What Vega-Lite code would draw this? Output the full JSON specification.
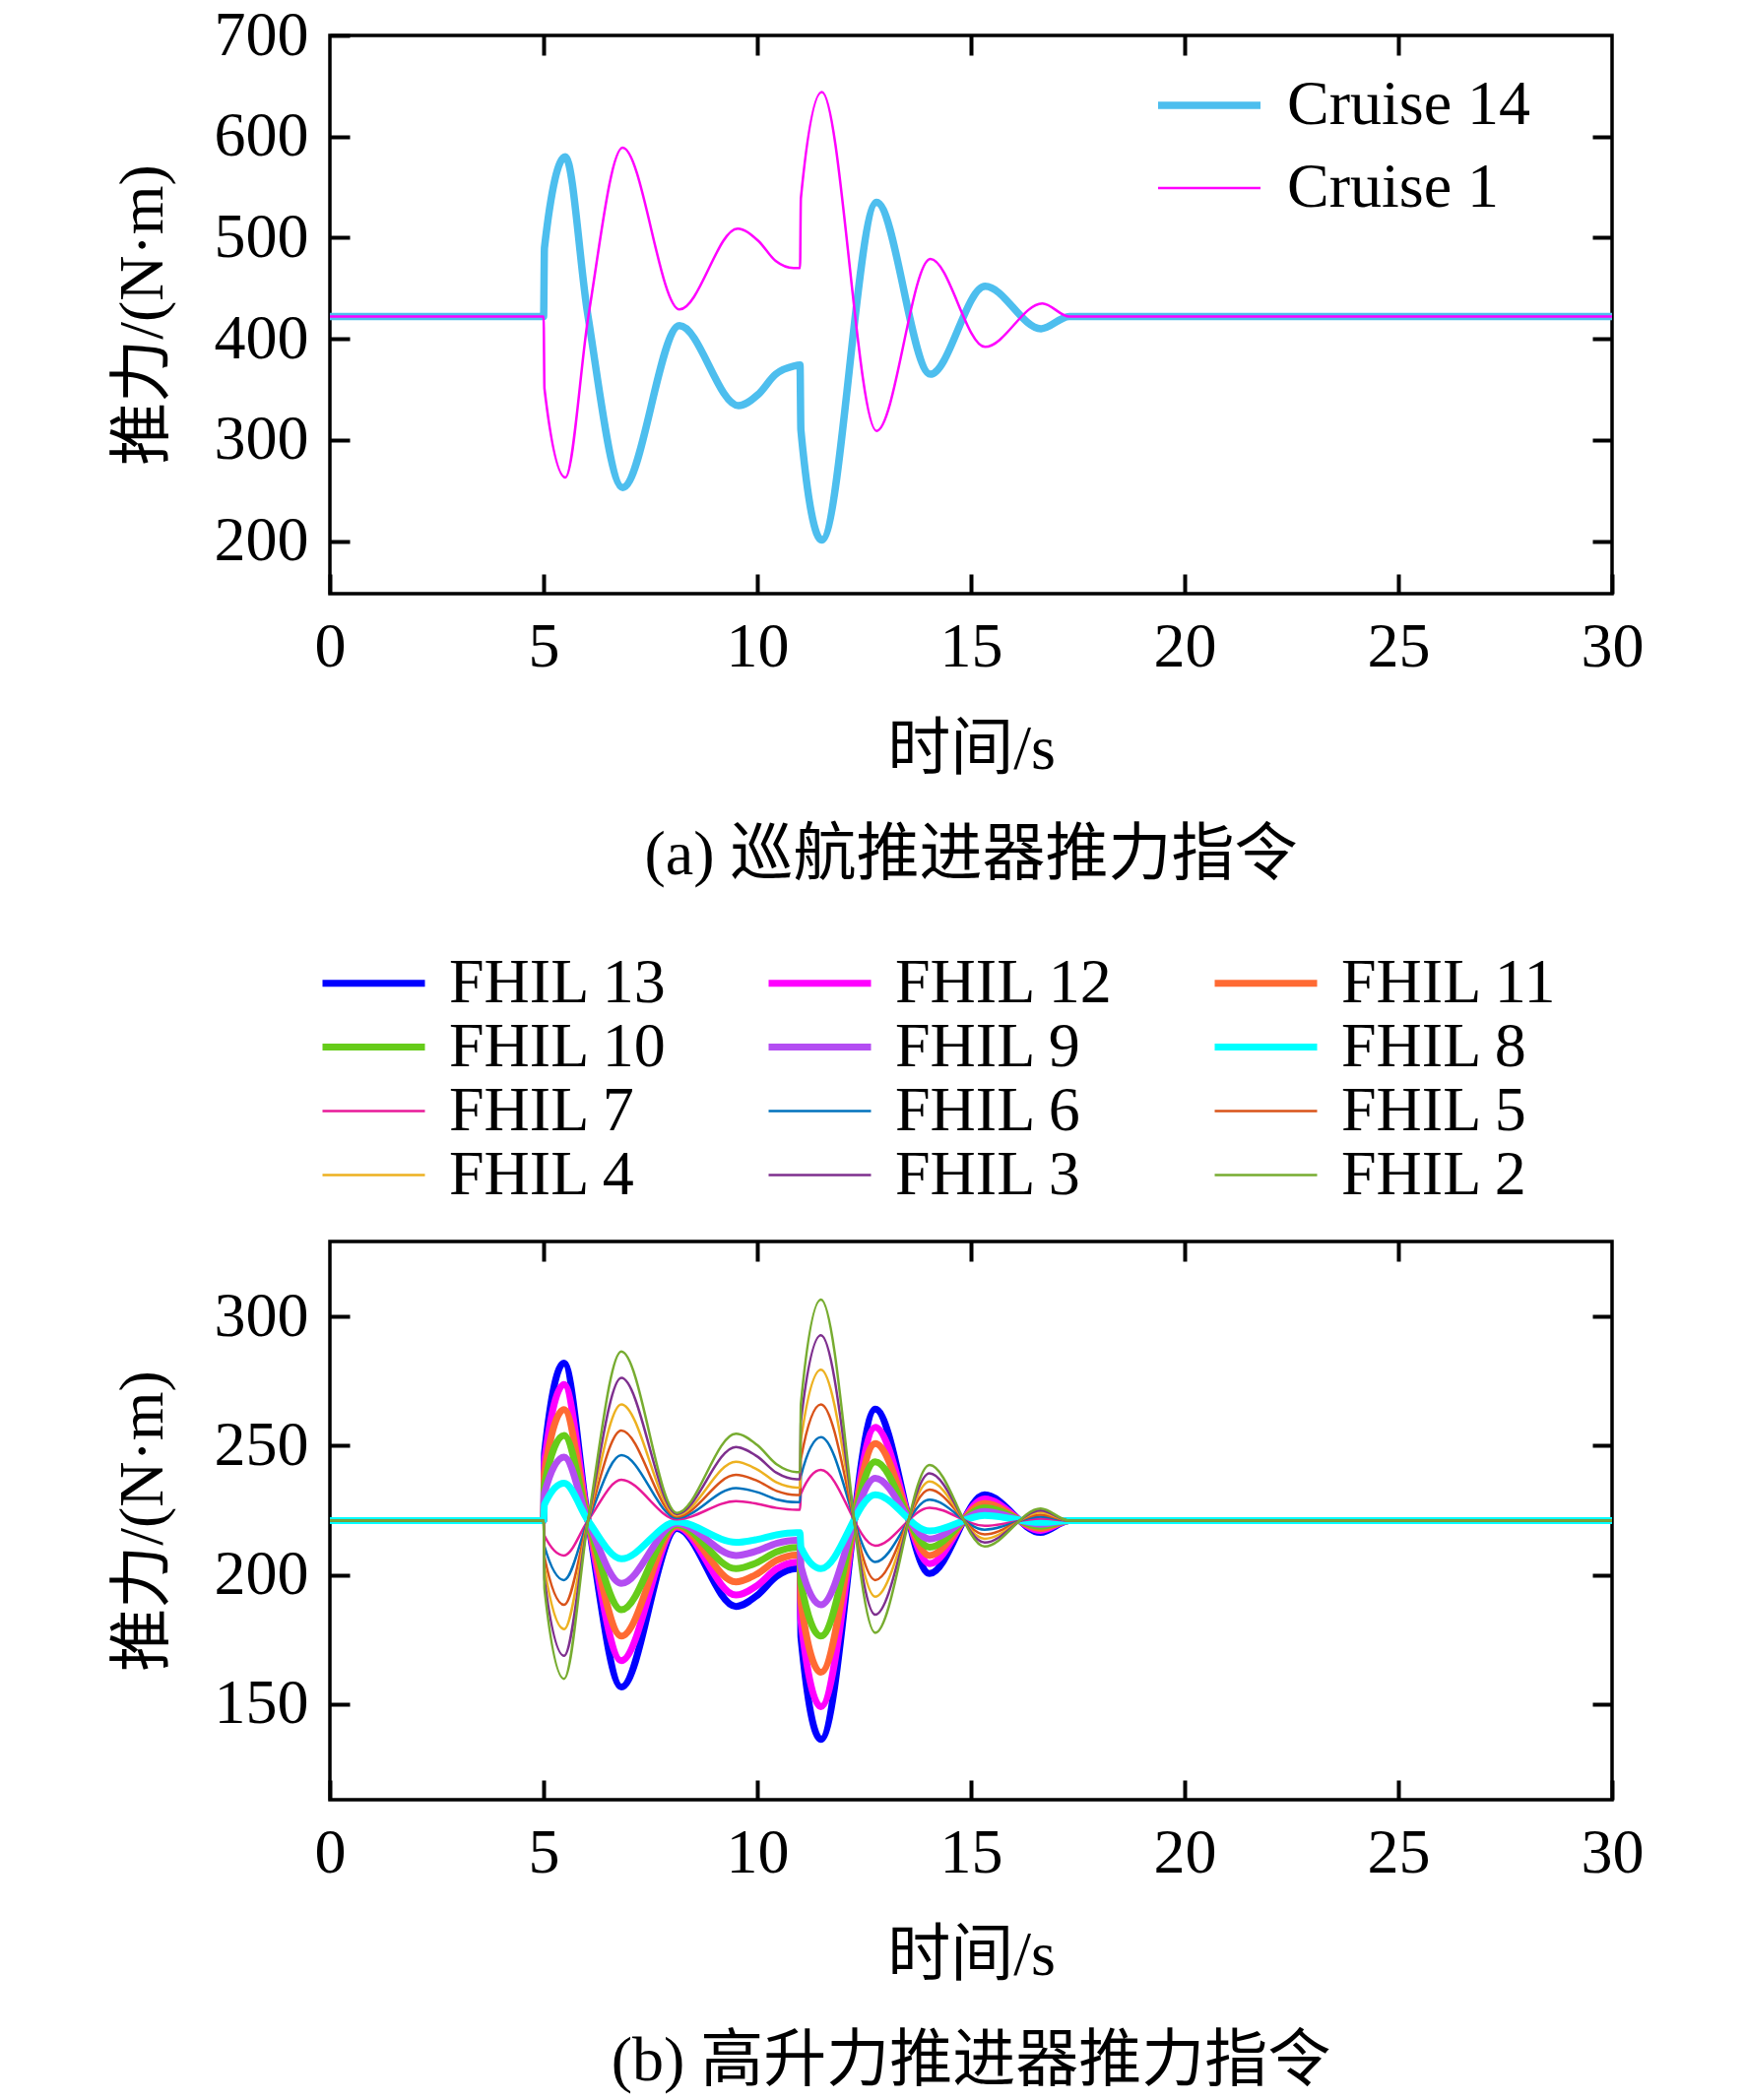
{
  "$schema": "https://vega.github.io/schema/vega-lite/v6.json",
  "background": "white",
  "padding": {"left": 111, "top": 2, "right": 10, "bottom": 10},
  "bounds": "flush",
  "spacing": 658,
  "resolve": {"scale": {"color": "independent", "strokeWidth": "independent"}, "legend": {"color": "independent", "strokeWidth": "independent"}},
  "config": {
    "font": "Liberation Serif, Noto Sans CJK SC",
    "view": {"stroke": "black", "strokeWidth": 3.5},
    "axis": {
      "labelFontSize": 64, "titleFontSize": 64, "titleFontWeight": "normal",
      "labelColor": "black", "titleColor": "black", "labelFlush": false,
      "gridColor": "#888888", "gridWidth": 2, "gridOpacity": 1,
      "tickColor": "black", "tickWidth": 4, "tickSize": -20,
      "domain": false, "labelPadding": 42, "titlePadding": 40
    },
    "legend": {"labelFontSize": 64, "labelColor": "black", "labelLimit": 0},
    "title": {"fontSize": 64, "fontWeight": "normal", "color": "black"}
  },
  "vconcat": [
    {
      "width": 1302, "height": 567,
      "title": {"text": "(a) 巡航推进器推力指令", "orient": "bottom", "anchor": "middle", "frame": "group", "offset": 44},
      "data": {"values": [
        {"t":0,"v":422,"s":"Cruise 14"},{"t":5,"v":422,"s":"Cruise 14"},{"t":5.02,"v":490,"s":"Cruise 14"},{"t":5.51,"v":580,"s":"Cruise 14"},{"t":6.03,"v":425,"s":"Cruise 14"},{"t":6.85,"v":253,"s":"Cruise 14"},{"t":8.18,"v":413,"s":"Cruise 14"},{"t":9.56,"v":334,"s":"Cruise 14"},{"t":10.02,"v":345,"s":"Cruise 14"},{"t":10.43,"v":365,"s":"Cruise 14"},{"t":10.85,"v":373,"s":"Cruise 14"},{"t":11,"v":374,"s":"Cruise 14"},{"t":11.02,"v":310,"s":"Cruise 14"},{"t":11.51,"v":201,"s":"Cruise 14"},{"t":12.79,"v":535,"s":"Cruise 14"},{"t":14.05,"v":365,"s":"Cruise 14"},{"t":15.33,"v":452,"s":"Cruise 14"},{"t":16.64,"v":410,"s":"Cruise 14"},{"t":17.3,"v":422,"s":"Cruise 14"},{"t":30,"v":422,"s":"Cruise 14"},
        {"t":0,"v":422,"s":"Cruise 1"},{"t":5,"v":422,"s":"Cruise 1"},{"t":5.02,"v":351,"s":"Cruise 1"},{"t":5.51,"v":263,"s":"Cruise 1"},{"t":6.05,"v":423,"s":"Cruise 1"},{"t":6.85,"v":589,"s":"Cruise 1"},{"t":8.18,"v":429,"s":"Cruise 1"},{"t":9.54,"v":509,"s":"Cruise 1"},{"t":10.02,"v":497,"s":"Cruise 1"},{"t":10.43,"v":477,"s":"Cruise 1"},{"t":10.85,"v":470,"s":"Cruise 1"},{"t":11,"v":470,"s":"Cruise 1"},{"t":11.02,"v":539,"s":"Cruise 1"},{"t":11.51,"v":644,"s":"Cruise 1"},{"t":12.79,"v":309,"s":"Cruise 1"},{"t":14.05,"v":479,"s":"Cruise 1"},{"t":15.33,"v":392,"s":"Cruise 1"},{"t":16.67,"v":435,"s":"Cruise 1"},{"t":17.3,"v":422,"s":"Cruise 1"},{"t":30,"v":422,"s":"Cruise 1"}
      ]},
      "layer": [
        {
          "mark": {"type": "point", "opacity": 0},
          "encoding": {
            "x": {"field": "t", "type": "quantitative", "scale": {"domain": [0, 30], "nice": false},
                  "axis": {"orient": "top", "labels": false, "grid": false, "title": null, "values": [5, 10, 15, 20, 25]}},
            "y": {"field": "v", "type": "quantitative", "scale": {"domain": [148, 700], "nice": false, "zero": false},
                  "axis": {"orient": "right", "labels": false, "grid": false, "title": null, "values": [200, 300, 400, 500, 600]}}
          }
        },
        {
          "mark": {"type": "line", "interpolate": "monotone"},
          "encoding": {
            "x": {"field": "t", "type": "quantitative", "scale": {"domain": [0, 30], "nice": false},
                  "axis": {"orient": "bottom", "title": "时间/s", "values": [0, 5, 10, 15, 20, 25, 30]}},
            "y": {"field": "v", "type": "quantitative", "scale": {"domain": [148, 700], "nice": false, "zero": false},
                  "axis": {"orient": "left", "title": "推力/(N·m)", "values": [200, 300, 400, 500, 600, 700]}},
            "color": {"field": "s", "type": "nominal",
                      "scale": {"domain": ["Cruise 14", "Cruise 1"], "range": ["#4DBEEE", "#FF00FF"]},
                      "legend": {"orient": "none", "legendX": 822, "legendY": 24, "title": null, "fillColor": "white",
                                 "padding": 15, "rowPadding": 20, "clipHeight": 64, "labelOffset": 23, "symbolSize": 10816, "symbolType": "stroke"}},
            "strokeWidth": {"field": "s", "type": "nominal",
                            "scale": {"type": "ordinal", "domain": ["Cruise 14", "Cruise 1"], "range": [7.5, 2.5]}}
          }
        }
      ],
      "resolve": {"axis": {"x": "independent", "y": "independent"}}
    },
    {
      "width": 1302, "height": 567,
      "title": {"text": "(b) 高升力推进器推力指令", "orient": "bottom", "anchor": "middle", "frame": "group", "offset": 44},
      "data": {"values": [
        {"t":0,"v":221,"s":"FHIL 13"},{"t":5,"v":221,"s":"FHIL 13"},{"t":5.02,"v":247,"s":"FHIL 13"},{"t":5.48,"v":282,"s":"FHIL 13"},{"t":6.04,"v":221,"s":"FHIL 13"},{"t":6.82,"v":156.6,"s":"FHIL 13"},{"t":8.12,"v":218,"s":"FHIL 13"},{"t":9.5,"v":187.8,"s":"FHIL 13"},{"t":10,"v":192.1,"s":"FHIL 13"},{"t":10.45,"v":199.4,"s":"FHIL 13"},{"t":10.92,"v":202.4,"s":"FHIL 13"},{"t":11,"v":202.4,"s":"FHIL 13"},{"t":11.02,"v":176,"s":"FHIL 13"},{"t":11.49,"v":136.3,"s":"FHIL 13"},{"t":12.76,"v":264.1,"s":"FHIL 13"},{"t":14.03,"v":200.5,"s":"FHIL 13"},{"t":15.32,"v":231,"s":"FHIL 13"},{"t":16.63,"v":216.4,"s":"FHIL 13"},{"t":17.3,"v":221,"s":"FHIL 13"},{"t":30,"v":221,"s":"FHIL 13"},
        {"t":0,"v":221,"s":"FHIL 12"},{"t":5,"v":221,"s":"FHIL 12"},{"t":5.02,"v":243.7,"s":"FHIL 12"},{"t":5.48,"v":273.7,"s":"FHIL 12"},{"t":6.04,"v":221,"s":"FHIL 12"},{"t":6.82,"v":166.8,"s":"FHIL 12"},{"t":8.12,"v":218.5,"s":"FHIL 12"},{"t":9.5,"v":192.2,"s":"FHIL 12"},{"t":10,"v":195.9,"s":"FHIL 12"},{"t":10.45,"v":202.3,"s":"FHIL 12"},{"t":10.92,"v":204.9,"s":"FHIL 12"},{"t":11,"v":204.9,"s":"FHIL 12"},{"t":11.02,"v":182.5,"s":"FHIL 12"},{"t":11.49,"v":149,"s":"FHIL 12"},{"t":12.76,"v":257.1,"s":"FHIL 12"},{"t":14.03,"v":204.3,"s":"FHIL 12"},{"t":15.32,"v":229.4,"s":"FHIL 12"},{"t":16.63,"v":217.2,"s":"FHIL 12"},{"t":17.3,"v":221,"s":"FHIL 12"},{"t":30,"v":221,"s":"FHIL 12"},
        {"t":0,"v":221,"s":"FHIL 11"},{"t":5,"v":221,"s":"FHIL 11"},{"t":5.02,"v":239.5,"s":"FHIL 11"},{"t":5.48,"v":264,"s":"FHIL 11"},{"t":6.04,"v":221,"s":"FHIL 11"},{"t":6.82,"v":176.3,"s":"FHIL 11"},{"t":8.12,"v":219,"s":"FHIL 11"},{"t":9.5,"v":197.3,"s":"FHIL 11"},{"t":10,"v":200.4,"s":"FHIL 11"},{"t":10.45,"v":205.6,"s":"FHIL 11"},{"t":10.92,"v":207.7,"s":"FHIL 11"},{"t":11,"v":207.7,"s":"FHIL 11"},{"t":11.02,"v":189.5,"s":"FHIL 11"},{"t":11.49,"v":162.3,"s":"FHIL 11"},{"t":12.76,"v":250.8,"s":"FHIL 11"},{"t":14.03,"v":207.5,"s":"FHIL 11"},{"t":15.32,"v":227.7,"s":"FHIL 11"},{"t":16.63,"v":218,"s":"FHIL 11"},{"t":17.3,"v":221,"s":"FHIL 11"},{"t":30,"v":221,"s":"FHIL 11"},
        {"t":0,"v":221,"s":"FHIL 10"},{"t":5,"v":221,"s":"FHIL 10"},{"t":5.02,"v":235,"s":"FHIL 10"},{"t":5.48,"v":254,"s":"FHIL 10"},{"t":6.04,"v":221,"s":"FHIL 10"},{"t":6.82,"v":186.5,"s":"FHIL 10"},{"t":8.12,"v":219.5,"s":"FHIL 10"},{"t":9.5,"v":202.4,"s":"FHIL 10"},{"t":10,"v":204.8,"s":"FHIL 10"},{"t":10.45,"v":208.9,"s":"FHIL 10"},{"t":10.92,"v":210.6,"s":"FHIL 10"},{"t":11,"v":210.6,"s":"FHIL 10"},{"t":11.02,"v":196.9,"s":"FHIL 10"},{"t":11.49,"v":176.3,"s":"FHIL 10"},{"t":12.76,"v":243.8,"s":"FHIL 10"},{"t":14.03,"v":210.7,"s":"FHIL 10"},{"t":15.32,"v":226,"s":"FHIL 10"},{"t":16.63,"v":218.8,"s":"FHIL 10"},{"t":17.3,"v":221,"s":"FHIL 10"},{"t":30,"v":221,"s":"FHIL 10"},
        {"t":0,"v":221,"s":"FHIL 9"},{"t":5,"v":221,"s":"FHIL 9"},{"t":5.02,"v":231.6,"s":"FHIL 9"},{"t":5.48,"v":245.6,"s":"FHIL 9"},{"t":6.04,"v":221,"s":"FHIL 9"},{"t":6.82,"v":196.7,"s":"FHIL 9"},{"t":8.12,"v":220,"s":"FHIL 9"},{"t":9.5,"v":207.5,"s":"FHIL 9"},{"t":10,"v":209.3,"s":"FHIL 9"},{"t":10.45,"v":212.2,"s":"FHIL 9"},{"t":10.92,"v":213.4,"s":"FHIL 9"},{"t":11,"v":213.4,"s":"FHIL 9"},{"t":11.02,"v":203.4,"s":"FHIL 9"},{"t":11.49,"v":188.4,"s":"FHIL 9"},{"t":12.76,"v":237.4,"s":"FHIL 9"},{"t":14.03,"v":213.9,"s":"FHIL 9"},{"t":15.32,"v":224.5,"s":"FHIL 9"},{"t":16.63,"v":219.6,"s":"FHIL 9"},{"t":17.3,"v":221,"s":"FHIL 9"},{"t":30,"v":221,"s":"FHIL 9"},
        {"t":0,"v":221,"s":"FHIL 8"},{"t":5,"v":221,"s":"FHIL 8"},{"t":5.02,"v":227.2,"s":"FHIL 8"},{"t":5.48,"v":235.5,"s":"FHIL 8"},{"t":6.04,"v":221,"s":"FHIL 8"},{"t":6.82,"v":206.2,"s":"FHIL 8"},{"t":8.12,"v":220.5,"s":"FHIL 8"},{"t":9.5,"v":212.6,"s":"FHIL 8"},{"t":10,"v":213.7,"s":"FHIL 8"},{"t":10.45,"v":215.5,"s":"FHIL 8"},{"t":10.92,"v":216.3,"s":"FHIL 8"},{"t":11,"v":216.3,"s":"FHIL 8"},{"t":11.02,"v":210.7,"s":"FHIL 8"},{"t":11.49,"v":202.4,"s":"FHIL 8"},{"t":12.76,"v":231,"s":"FHIL 8"},{"t":14.03,"v":217,"s":"FHIL 8"},{"t":15.32,"v":223,"s":"FHIL 8"},{"t":16.63,"v":220.3,"s":"FHIL 8"},{"t":17.3,"v":221,"s":"FHIL 8"},{"t":30,"v":221,"s":"FHIL 8"},
        {"t":0,"v":221,"s":"FHIL 7"},{"t":5,"v":221,"s":"FHIL 7"},{"t":5.02,"v":215.2,"s":"FHIL 7"},{"t":5.48,"v":207.5,"s":"FHIL 7"},{"t":6.04,"v":221,"s":"FHIL 7"},{"t":6.82,"v":236.8,"s":"FHIL 7"},{"t":8.12,"v":221.5,"s":"FHIL 7"},{"t":9.5,"v":228.5,"s":"FHIL 7"},{"t":10,"v":227.5,"s":"FHIL 7"},{"t":10.45,"v":225.9,"s":"FHIL 7"},{"t":10.92,"v":225.2,"s":"FHIL 7"},{"t":11,"v":225.2,"s":"FHIL 7"},{"t":11.02,"v":231.4,"s":"FHIL 7"},{"t":11.49,"v":240.6,"s":"FHIL 7"},{"t":12.76,"v":211.3,"s":"FHIL 7"},{"t":14.03,"v":226,"s":"FHIL 7"},{"t":15.32,"v":219,"s":"FHIL 7"},{"t":16.63,"v":221.8,"s":"FHIL 7"},{"t":17.3,"v":221,"s":"FHIL 7"},{"t":30,"v":221,"s":"FHIL 7"},
        {"t":0,"v":221,"s":"FHIL 6"},{"t":5,"v":221,"s":"FHIL 6"},{"t":5.02,"v":211.1,"s":"FHIL 6"},{"t":5.48,"v":198,"s":"FHIL 6"},{"t":6.04,"v":221,"s":"FHIL 6"},{"t":6.82,"v":246.3,"s":"FHIL 6"},{"t":8.12,"v":222,"s":"FHIL 6"},{"t":9.5,"v":233.6,"s":"FHIL 6"},{"t":10,"v":232,"s":"FHIL 6"},{"t":10.45,"v":229.2,"s":"FHIL 6"},{"t":10.92,"v":228.1,"s":"FHIL 6"},{"t":11,"v":228.1,"s":"FHIL 6"},{"t":11.02,"v":238.2,"s":"FHIL 6"},{"t":11.49,"v":253.3,"s":"FHIL 6"},{"t":12.76,"v":205,"s":"FHIL 6"},{"t":14.03,"v":229.1,"s":"FHIL 6"},{"t":15.32,"v":217.5,"s":"FHIL 6"},{"t":16.63,"v":222.5,"s":"FHIL 6"},{"t":17.3,"v":221,"s":"FHIL 6"},{"t":30,"v":221,"s":"FHIL 6"},
        {"t":0,"v":221,"s":"FHIL 5"},{"t":5,"v":221,"s":"FHIL 5"},{"t":5.02,"v":207,"s":"FHIL 5"},{"t":5.48,"v":188.4,"s":"FHIL 5"},{"t":6.04,"v":221,"s":"FHIL 5"},{"t":6.82,"v":255.9,"s":"FHIL 5"},{"t":8.12,"v":222.5,"s":"FHIL 5"},{"t":9.5,"v":238.7,"s":"FHIL 5"},{"t":10,"v":236.4,"s":"FHIL 5"},{"t":10.45,"v":232.5,"s":"FHIL 5"},{"t":10.92,"v":230.9,"s":"FHIL 5"},{"t":11,"v":230.9,"s":"FHIL 5"},{"t":11.02,"v":244.9,"s":"FHIL 5"},{"t":11.49,"v":266,"s":"FHIL 5"},{"t":12.76,"v":198,"s":"FHIL 5"},{"t":14.03,"v":233,"s":"FHIL 5"},{"t":15.32,"v":215.7,"s":"FHIL 5"},{"t":16.63,"v":223.3,"s":"FHIL 5"},{"t":17.3,"v":221,"s":"FHIL 5"},{"t":30,"v":221,"s":"FHIL 5"},
        {"t":0,"v":221,"s":"FHIL 4"},{"t":5,"v":221,"s":"FHIL 4"},{"t":5.02,"v":203,"s":"FHIL 4"},{"t":5.48,"v":179,"s":"FHIL 4"},{"t":6.04,"v":221,"s":"FHIL 4"},{"t":6.82,"v":266,"s":"FHIL 4"},{"t":8.12,"v":223,"s":"FHIL 4"},{"t":9.5,"v":243.8,"s":"FHIL 4"},{"t":10,"v":240.8,"s":"FHIL 4"},{"t":10.45,"v":235.8,"s":"FHIL 4"},{"t":10.92,"v":233.8,"s":"FHIL 4"},{"t":11,"v":233.8,"s":"FHIL 4"},{"t":11.02,"v":252,"s":"FHIL 4"},{"t":11.49,"v":279.4,"s":"FHIL 4"},{"t":12.76,"v":191.6,"s":"FHIL 4"},{"t":14.03,"v":236.1,"s":"FHIL 4"},{"t":15.32,"v":214,"s":"FHIL 4"},{"t":16.63,"v":224.1,"s":"FHIL 4"},{"t":17.3,"v":221,"s":"FHIL 4"},{"t":30,"v":221,"s":"FHIL 4"},
        {"t":0,"v":221,"s":"FHIL 3"},{"t":5,"v":221,"s":"FHIL 3"},{"t":5.02,"v":198.5,"s":"FHIL 3"},{"t":5.48,"v":168.7,"s":"FHIL 3"},{"t":6.04,"v":221,"s":"FHIL 3"},{"t":6.82,"v":276.2,"s":"FHIL 3"},{"t":8.12,"v":223.5,"s":"FHIL 3"},{"t":9.5,"v":249.5,"s":"FHIL 3"},{"t":10,"v":245.8,"s":"FHIL 3"},{"t":10.45,"v":239.5,"s":"FHIL 3"},{"t":10.92,"v":237,"s":"FHIL 3"},{"t":11,"v":237,"s":"FHIL 3"},{"t":11.02,"v":259.3,"s":"FHIL 3"},{"t":11.49,"v":292.7,"s":"FHIL 3"},{"t":12.76,"v":184.6,"s":"FHIL 3"},{"t":14.03,"v":239.3,"s":"FHIL 3"},{"t":15.32,"v":212.5,"s":"FHIL 3"},{"t":16.63,"v":224.9,"s":"FHIL 3"},{"t":17.3,"v":221,"s":"FHIL 3"},{"t":30,"v":221,"s":"FHIL 3"},
        {"t":0,"v":221,"s":"FHIL 2"},{"t":5,"v":221,"s":"FHIL 2"},{"t":5.02,"v":194.7,"s":"FHIL 2"},{"t":5.48,"v":159.8,"s":"FHIL 2"},{"t":6.04,"v":221,"s":"FHIL 2"},{"t":6.82,"v":286.4,"s":"FHIL 2"},{"t":8.12,"v":224,"s":"FHIL 2"},{"t":9.5,"v":254.6,"s":"FHIL 2"},{"t":10,"v":250.2,"s":"FHIL 2"},{"t":10.45,"v":242.8,"s":"FHIL 2"},{"t":10.92,"v":239.8,"s":"FHIL 2"},{"t":11,"v":239.8,"s":"FHIL 2"},{"t":11.02,"v":266.1,"s":"FHIL 2"},{"t":11.49,"v":306.5,"s":"FHIL 2"},{"t":12.76,"v":177.6,"s":"FHIL 2"},{"t":14.03,"v":242.5,"s":"FHIL 2"},{"t":15.32,"v":211,"s":"FHIL 2"},{"t":16.63,"v":225.7,"s":"FHIL 2"},{"t":17.3,"v":221,"s":"FHIL 2"},{"t":30,"v":221,"s":"FHIL 2"}
      ]},
      "layer": [
        {
          "mark": {"type": "point", "opacity": 0},
          "encoding": {
            "x": {"field": "t", "type": "quantitative", "scale": {"domain": [0, 30], "nice": false},
                  "axis": {"orient": "top", "labels": false, "grid": false, "title": null, "values": [5, 10, 15, 20, 25]}},
            "y": {"field": "v", "type": "quantitative", "scale": {"domain": [113, 329], "nice": false, "zero": false},
                  "axis": {"orient": "right", "labels": false, "grid": false, "title": null, "values": [150, 200, 250, 300]}}
          }
        },
        {
          "mark": {"type": "line", "interpolate": "monotone"},
          "encoding": {
            "x": {"field": "t", "type": "quantitative", "scale": {"domain": [0, 30], "nice": false},
                  "axis": {"orient": "bottom", "title": "时间/s", "values": [0, 5, 10, 15, 20, 25, 30]}},
            "y": {"field": "v", "type": "quantitative", "scale": {"domain": [113, 329], "nice": false, "zero": false},
                  "axis": {"orient": "left", "title": "推力/(N·m)", "values": [150, 200, 250, 300]}},
            "color": {"field": "s", "type": "nominal",
                      "scale": {"domain": ["FHIL 13", "FHIL 12", "FHIL 11", "FHIL 10", "FHIL 9", "FHIL 8", "FHIL 7", "FHIL 6", "FHIL 5", "FHIL 4", "FHIL 3", "FHIL 2"],
                                "range": ["#0000FF", "#FF00FF", "#FF6A33", "#66CC1A", "#B34DF2", "#00FFFF", "#E81A99", "#0072BD", "#D95319", "#EDB120", "#7E2F8E", "#77AC30"]},
                      "legend": {"orient": "none", "direction": "horizontal", "legendX": -11, "legendY": -293, "title": null, "columns": 3,
                                 "columnPadding": 98, "rowPadding": 0, "clipHeight": 61, "padding": 0, "labelOffset": 21,
                                 "symbolSize": 10816, "symbolType": "stroke"}},
            "strokeWidth": {"field": "s", "type": "nominal",
                            "scale": {"type": "ordinal", "domain": ["FHIL 13", "FHIL 12", "FHIL 11", "FHIL 10", "FHIL 9", "FHIL 8", "FHIL 7", "FHIL 6", "FHIL 5", "FHIL 4", "FHIL 3", "FHIL 2"],
                                      "range": [7, 7, 7, 7, 7, 7, 2.5, 2.5, 2.5, 2.5, 2.5, 2.5]}}
          }
        }
      ],
      "resolve": {"axis": {"x": "independent", "y": "independent"}}
    }
  ]
}
